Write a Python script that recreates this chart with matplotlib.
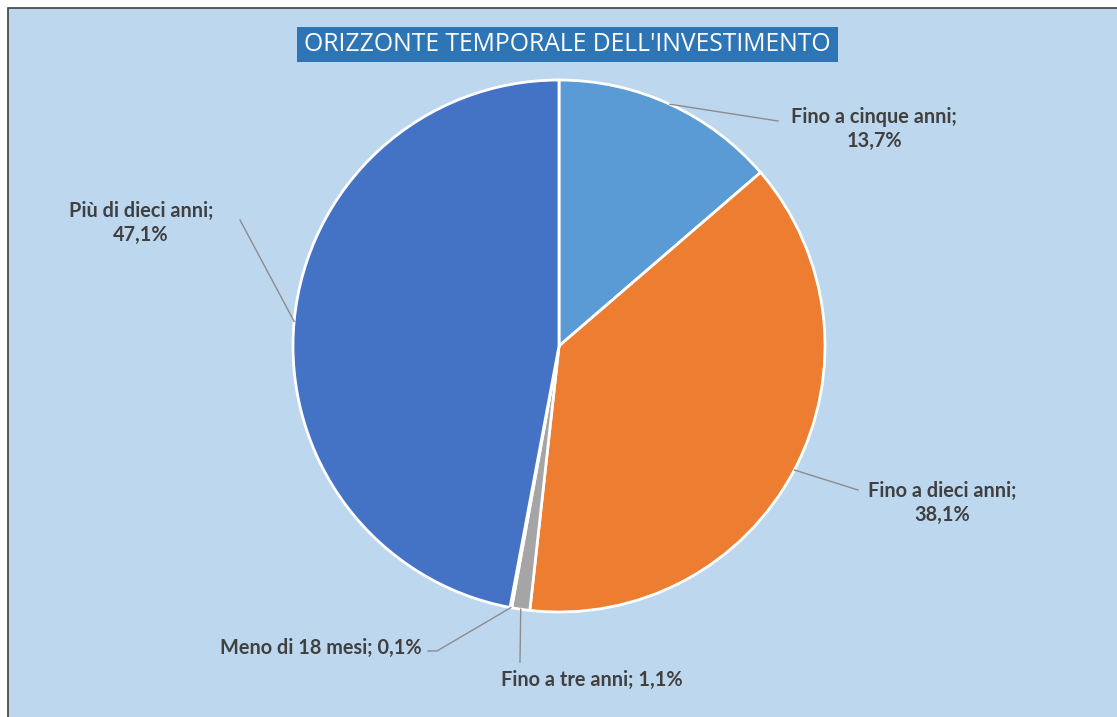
import matplotlib
matplotlib.use("Agg")
import matplotlib.pyplot as plt
from matplotlib.patches import Rectangle
import numpy as np

categories = ["Fino a cinque anni", "Fino a dieci anni", "Fino a tre anni",
              "Meno di 18 mesi", "Più di dieci anni"]
values = [13.7, 38.1, 1.1, 0.1, 47.1]
value_labels = ["13,7%", "38,1%", "1,1%", "0,1%", "47,1%"]
colors = ["#5B9BD5", "#ED7D31", "#A5A5A5", "#FFC000", "#4472C4"]
title = "ORIZZONTE TEMPORALE DELL'INVESTIMENTO"

W, H = 1117, 717
fig = plt.figure(figsize=(W / 100, H / 100), dpi=100)
fig.patch.set_facecolor("white")
ax = fig.add_axes([0, 0, 1, 1])

def Y(py):
    return H - py

# background panel with border
ax.add_patch(Rectangle((8, -20), W + 20, Y(8) + 20, facecolor="#BDD7EE",
                       edgecolor="#404040", linewidth=1.2, zorder=0))

cx, cy, r = 559, Y(346), 266
wedges, _ = ax.pie(values, colors=colors, startangle=90, counterclock=False,
                   center=(cx, cy), radius=r, frame=True,
                   wedgeprops=dict(edgecolor="white", linewidth=2))
ax.set_xlim(0, W)
ax.set_ylim(0, H)
ax.set_aspect("equal")
ax.axis("off")

# title box
ax.add_patch(Rectangle((297, Y(62)), 541, 35, facecolor="#2E75B6",
                       edgecolor="none", zorder=3))
ax.text(567, Y(44.5), title, ha="center", va="center", color="white",
        fontsize=17.8, family="Open Sans", zorder=4)

# label positions (pixel coords) and leader-line end points
label_pos = [(874, 129), (942, 503), (592, 680), (321, 648), (141, 223)]
label_txt = [f"{categories[0]};\n{value_labels[0]}",
             f"{categories[1]};\n{value_labels[1]}",
             f"{categories[2]}; {value_labels[2]}",
             f"{categories[3]}; {value_labels[3]}",
             f"{categories[4]};\n{value_labels[4]}"]
leader_pts = [[(778, 121)], [(858, 490)], [(520, 662)],
              [(437, 651), (428, 651)], [(240, 220)]]

cum = np.cumsum([0] + values[:-1])
total = sum(values)
for i, v in enumerate(values):
    mid = cum[i] + v / 2
    ang = np.deg2rad(90 - mid / total * 360)
    sx, sy = cx + r * np.cos(ang), cy + r * np.sin(ang)
    xs = [sx] + [p[0] for p in leader_pts[i]]
    ys = [sy] + [Y(p[1]) for p in leader_pts[i]]
    ax.plot(xs, ys, color="#8C8C8C", linewidth=1, zorder=2)
    lx, ly = label_pos[i]
    ax.text(lx, Y(ly), label_txt[i], ha="center", va="center",
            color="#404040", fontsize=14.3, fontweight="bold", family="Lato",
            linespacing=1.3, zorder=4)

fig.savefig("out.png", dpi=100, facecolor=fig.get_facecolor())
